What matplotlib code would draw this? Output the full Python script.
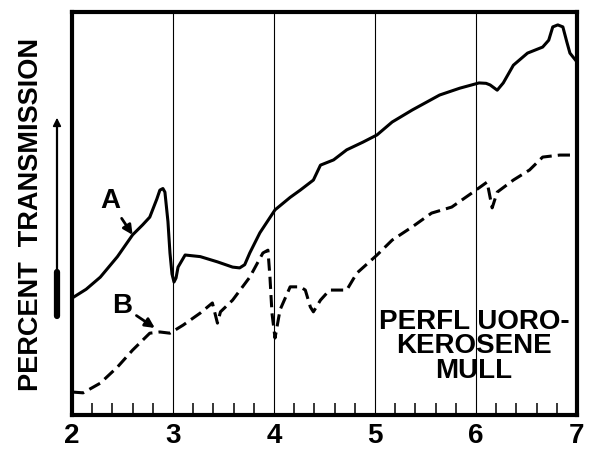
import matplotlib
matplotlib.use("Agg")
import matplotlib.pyplot as plt
from matplotlib.lines import Line2D
from matplotlib.patches import FancyArrowPatch
import numpy as np

# Wavelength (microns) and percent transmission (arbitrary 0-100 scale)
a_x = [2.00, 2.14, 2.28, 2.45, 2.60, 2.70, 2.77, 2.84, 2.87, 2.90, 2.92, 2.95,
       2.97, 2.99, 3.01, 3.03, 3.05, 3.12, 3.27, 3.44,
       3.59, 3.66, 3.71, 3.76, 3.86, 4.01, 4.16, 4.26, 4.39, 4.46, 4.59, 4.72,
       4.88, 5.02, 5.17, 5.37, 5.64, 5.84, 6.03, 6.10, 6.14, 6.21, 6.27, 6.37,
       6.51, 6.66, 6.72, 6.76, 6.81, 6.86, 6.90, 6.93, 7.00]
a_y = [29.0, 31.2, 34.2, 39.3, 44.7, 47.2, 49.1, 53.6, 55.8, 56.2, 55.3, 48.0,
       40.2, 35.0, 33.0, 34.0, 36.7, 39.7, 39.3, 38.0,
       36.7, 36.5, 37.3, 40.2, 45.2, 50.9, 54.0, 55.8, 58.3, 62.0, 63.3, 65.8,
       67.7, 69.5, 72.7, 75.7, 79.4, 81.1, 82.4, 82.3, 81.9, 80.6, 82.4, 86.8,
       89.8, 91.3, 93.0, 96.3, 96.8, 96.3, 92.5, 89.8, 87.6]

b_x = [2.00, 2.11, 2.28, 2.45, 2.60, 2.77, 2.87, 2.97, 3.10, 3.27, 3.39, 3.44,
       3.47, 3.59, 3.76, 3.89, 3.94, 3.96, 3.98, 4.01, 4.06, 4.16, 4.26, 4.31,
       4.36, 4.39, 4.46, 4.55, 4.72, 4.82, 5.02, 5.17, 5.37, 5.56, 5.76, 5.96,
       6.11, 6.16, 6.21, 6.37, 6.53, 6.66, 6.83, 7.00]
b_y = [5.7, 5.5, 7.9, 11.9, 16.1, 20.3, 20.6, 20.3, 22.3, 25.3, 27.8, 22.8,
       25.6, 28.5, 34.2, 40.2, 40.9, 34.2, 25.3, 19.1, 26.1, 31.8, 31.8, 31.0,
       26.8, 25.6, 28.5, 31.0, 31.0, 35.2, 39.7, 43.4, 46.7, 50.1, 51.6, 55.1,
       57.8, 51.4, 55.3, 58.3, 60.8, 64.0, 64.5, 64.5]

major_ticks = [2, 3, 4, 5, 6, 7]
grid_x = [3, 4, 5, 6]

plt.rcParams['font.family'] = ['Liberation Sans', 'DejaVu Sans']
plt.rcParams['font.weight'] = 'bold'

fig = plt.figure(figsize=(5.91, 4.51), dpi=100)
ax = fig.add_axes([72/591, 36/451, 505/591, 403/451])

ax.set_xlim(2, 7)
ax.set_ylim(0, 100)

for gx in grid_x:
    ax.axvline(gx, color='black', lw=0.8, zorder=1)

ax.plot(a_x, a_y, color='black', lw=2.2, solid_joinstyle='round', zorder=3)
ax.plot(b_x, b_y, color='black', lw=2.2, linestyle=(0, (4, 2)), zorder=3)

for s in ax.spines.values():
    s.set_linewidth(3.0)

ax.set_yticks([])
ax.set_xticks(major_ticks)
ax.set_xticklabels([str(t) for t in major_ticks], fontsize=20, fontweight='bold')
ax.set_xticks(np.arange(2, 7.01, 0.2), minor=True)
ax.tick_params(axis='x', which='major', length=0, pad=6)
ax.tick_params(axis='x', which='minor', direction='in', length=9, width=1.1)

# Curve labels
ax.annotate('A', xy=(2.60, 44.7), xytext=(2.38, 53.0), fontsize=20,
            ha='center', va='center',
            arrowprops=dict(arrowstyle='-|>', color='black', lw=2.0,
                            mutation_scale=14, shrinkA=1, shrinkB=0))
ax.annotate('B', xy=(2.82, 21.6), xytext=(2.50, 27.0), fontsize=20,
            ha='center', va='center',
            arrowprops=dict(arrowstyle='-|>', color='black', lw=2.0,
                            mutation_scale=14, shrinkA=1, shrinkB=0))

ax.text(5.98, 17.0, 'PERFL UORO-\nKEROSENE\nMULL', fontsize=20,
        ha='center', va='center', linespacing=0.92, zorder=4)

# Y-axis label with arrow
fig.text(31/591, 1 - 214/451, 'PERCENT  TRANSMISSION', rotation=90,
         fontsize=19.5, ha='center', va='center')
fig.add_artist(Line2D([57/591, 57/591], [1 - 316/451, 1 - 125/451],
                      transform=fig.transFigure, color='black', lw=1.6))
fig.add_artist(Line2D([57/591, 57/591], [1 - 316/451, 1 - 272/451],
                      transform=fig.transFigure, color='black', lw=4.5,
                      solid_capstyle='round'))
fig.patches.append(FancyArrowPatch(
    (57/591, 1 - 130/451), (57/591, 1 - 115/451), transform=fig.transFigure,
    arrowstyle='-|>', mutation_scale=12, color='black', lw=1.2))

fig.savefig('out.png', dpi=100)
